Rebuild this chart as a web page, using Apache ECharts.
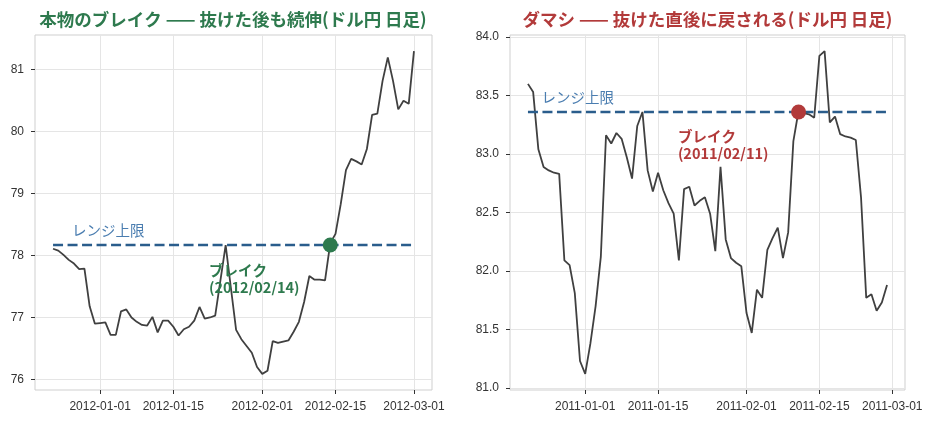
<!DOCTYPE html>
<html>
<head>
<meta charset="utf-8">
<script src="https://cdn.jsdelivr.net/npm/echarts@6/dist/echarts.min.js"></script>
<style>
    html, body {margin: 0; padding: 0; background: #fff;}
    #chart-1 {width: 935px; height: 424px;}
</style>
</head>
<body>
<div id="chart-1"></div>
<script type="text/javascript">
    // 本物のブレイク (2011-12-23 から日足)
    var realStart = '2011-12-23';
    var realClose = [
        78.11, 78.08, 78.01, 77.93, 77.87, 77.78, 77.79, 77.18, 76.90, 76.91,
        76.92, 76.72, 76.72, 77.10, 77.13, 77.00, 76.93, 76.88, 76.87, 77.01,
        76.76, 76.95, 76.95, 76.85, 76.71, 76.81, 76.85, 76.95, 77.17, 76.98,
        77.00, 77.03, 77.60, 78.17, 77.48, 76.80, 76.65, 76.54, 76.43, 76.20,
        76.09, 76.14, 76.62, 76.59, 76.61, 76.63, 76.77, 76.93, 77.25, 77.67,
        77.61, 77.61, 77.60, 78.20, 78.35, 78.83, 79.38, 79.56, 79.52, 79.47,
        79.72, 80.27, 80.29, 80.82, 81.20, 80.82, 80.36, 80.50, 80.45, 81.30
    ];
    var realTop = 78.17;
    var realBreak = '2012-02-14';
    var realXTicks = ['2012-01-01', '2012-01-15', '2012-02-01', '2012-02-15', '2012-03-01'];
    var realYTicks = [76, 77, 78, 79, 80, 81];

    // ダマシ (2010-12-21 から日足)
    var fakeStart = '2010-12-21';
    var fakeClose = [
        83.60, 83.53, 83.04, 82.89, 82.86, 82.84, 82.83, 82.09, 82.05, 81.81,
        81.23, 81.12, 81.38, 81.70, 82.12, 83.16, 83.09, 83.18, 83.13, 82.97,
        82.79, 83.24, 83.36, 82.86, 82.68, 82.84, 82.69, 82.58, 82.49, 82.09,
        82.70, 82.72, 82.56, 82.60, 82.63, 82.49, 82.17, 82.89, 82.27, 82.11,
        82.07, 82.04, 81.64, 81.47, 81.84, 81.77, 82.18, 82.28, 82.37, 82.11,
        82.33, 83.11, 83.37, 83.35, 83.34, 83.31, 83.84, 83.88, 83.27, 83.32,
        83.17, 83.15, 83.14, 83.12, 82.63, 81.77, 81.80, 81.66, 81.73, 81.88
    ];
    var fakeTop = 83.36;
    var fakeBreak = '2011-02-11';
    var fakeXTicks = ['2011-01-01', '2011-01-15', '2011-02-01', '2011-02-15', '2011-03-01'];
    var fakeYTicks = [81.0, 81.5, 82.0, 82.5, 83.0, 83.5, 84.0];

    var titles = [
        '本物のブレイク —— 抜けた後も続伸(ドル円 日足)',
        'ダマシ —— 抜けた直後に戻される(ドル円 日足)'
    ];
    var rangeLabel = 'レンジ上限';
    var realNote = 'ブレイク\n(2012/02/14)';
    var fakeNote = 'ブレイク\n(2011/02/11)';
    // 注記の位置（日付, 値）
    var realRangeLabelAt = ['2011-12-27', 78.40];
    var fakeRangeLabelAt = ['2010-12-24', 83.48];
    var realNoteAt = ['2012-01-22', 77.62];
    var fakeNoteAt = ['2011-01-19', 83.08];

    var GREEN = '#2e7a4e';
    var RED = '#b23a3a';
    var NAVY = '#2a5d8c';
    var TICKFONT = '"Liberation Sans", Arial, sans-serif';
    var JPFONT = '"Noto Sans CJK JP", sans-serif';
    var DAY = 86400000;

    function ts(s) {
        var p = s.split('-');
        return new Date(+p[0], +p[1] - 1, +p[2]).getTime();
    }
    function pairs(start, vals) {
        var t0 = ts(start);
        return vals.map(function (v, i) { return [t0 + i * DAY, v]; });
    }
    // matplotlib 風の 5% マージン
    function pad(lo, hi) {
        var m = (hi - lo) * 0.05;
        return [lo - m, hi + m];
    }

    var realData = pairs(realStart, realClose);
    var fakeData = pairs(fakeStart, fakeClose);
    var realX = pad(realData[0][0], realData[realData.length - 1][0]);
    var fakeX = pad(fakeData[0][0], fakeData[fakeData.length - 1][0]);
    var realY = pad(Math.min.apply(null, realClose), Math.max.apply(null, realClose));
    var fakeY = pad(Math.min.apply(null, fakeClose), Math.max.apply(null, fakeClose));

    function xAxis(idx, range, ticks) {
        return {
            type: 'value', gridIndex: idx, min: range[0], max: range[1], scale: true,
            axisLine: {show: false},
            axisTick: {show: true, length: 4, customValues: ticks.map(ts), lineStyle: {color: '#333', width: 1}},
            axisLabel: {
                customValues: ticks.map(ts), margin: 11, fontSize: 12, color: '#333', fontFamily: TICKFONT,
                formatter: function (v) { return echarts.time.format(v, '{yyyy}-{MM}-{dd}', false); }
            },
            splitLine: {show: true, lineStyle: {color: '#e5e5e5', width: 1}}
        };
    }
    function yAxis(idx, range, ticks, digits) {
        return {
            type: 'value', gridIndex: idx, min: range[0], max: range[1], scale: true,
            axisLine: {show: false},
            axisTick: {show: true, length: 4, customValues: ticks, lineStyle: {color: '#333', width: 1}},
            axisLabel: {
                customValues: ticks, margin: 11, fontSize: 12, color: '#333', fontFamily: TICKFONT,
                formatter: function (v) { return v.toFixed(digits); }
            },
            splitLine: {show: true, lineStyle: {color: '#e5e5e5', width: 1}}
        };
    }
    function panel(idx, data, top, breakDate, color, rangeAt, noteAt, note) {
        var first = data[0][0], last = data[data.length - 1][0];
        return [
            {
                type: 'line', xAxisIndex: idx, yAxisIndex: idx, data: data,
                showSymbol: false, symbol: 'none',
                lineStyle: {color: '#404040', width: 1.8}, z: 2
            },
            {
                type: 'line', xAxisIndex: idx, yAxisIndex: idx,
                data: [[first, top], [last, top]], symbol: 'none',
                lineStyle: {color: NAVY, width: 2.4, type: [10, 4.5]}, z: 3
            },
            {
                type: 'scatter', xAxisIndex: idx, yAxisIndex: idx,
                data: [[ts(breakDate), top]], symbolSize: 15,
                itemStyle: {color: color, opacity: 1}, z: 4
            },
            {
                type: 'scatter', xAxisIndex: idx, yAxisIndex: idx, symbolSize: 0, z: 5,
                itemStyle: {opacity: 1},
                data: [
                    {value: [ts(rangeAt[0]), rangeAt[1]], label: {
                        show: true, formatter: rangeLabel, position: 'right', distance: -2,
                        color: '#4a7db0', fontSize: 14.5, fontFamily: JPFONT
                    }},
                    {value: [ts(noteAt[0]), noteAt[1]], label: {
                        show: true, formatter: note, position: 'right', distance: -1, align: 'left',
                        color: color, fontSize: 14.5, fontWeight: 'bold', lineHeight: 17, fontFamily: JPFONT
                    }}
                ]
            }
        ];
    }

    var myChart = echarts.init(document.getElementById('chart-1'), null, {renderer: 'canvas'});
    var option = {
        animation: false,
        backgroundColor: '#fff',
        grid: [
            {left: 35, top: 35, width: 397, height: 355, show: true, borderColor: '#cfcfcf', borderWidth: 1, outerBoundsMode: 'none'},
            {left: 510, top: 35, width: 395, height: 355, show: true, borderColor: '#cfcfcf', borderWidth: 1, outerBoundsMode: 'none'}
        ],
        graphic: [
            {type: 'text', x: 233, y: 19, style: {text: titles[0], align: 'center', verticalAlign: 'middle',
                fill: GREEN, font: 'bold 17.5px ' + JPFONT}},
            {type: 'text', x: 707.5, y: 19, style: {text: titles[1], align: 'center', verticalAlign: 'middle',
                fill: RED, font: 'bold 17.5px ' + JPFONT}}
        ],
        xAxis: [xAxis(0, realX, realXTicks), xAxis(1, fakeX, fakeXTicks)],
        yAxis: [yAxis(0, realY, realYTicks, 0), yAxis(1, fakeY, fakeYTicks, 1)],
        series: panel(0, realData, realTop, realBreak, GREEN, realRangeLabelAt, realNoteAt, realNote)
            .concat(panel(1, fakeData, fakeTop, fakeBreak, RED, fakeRangeLabelAt, fakeNoteAt, fakeNote))
    };
    myChart.setOption(option);
</script>
</body>
</html>
